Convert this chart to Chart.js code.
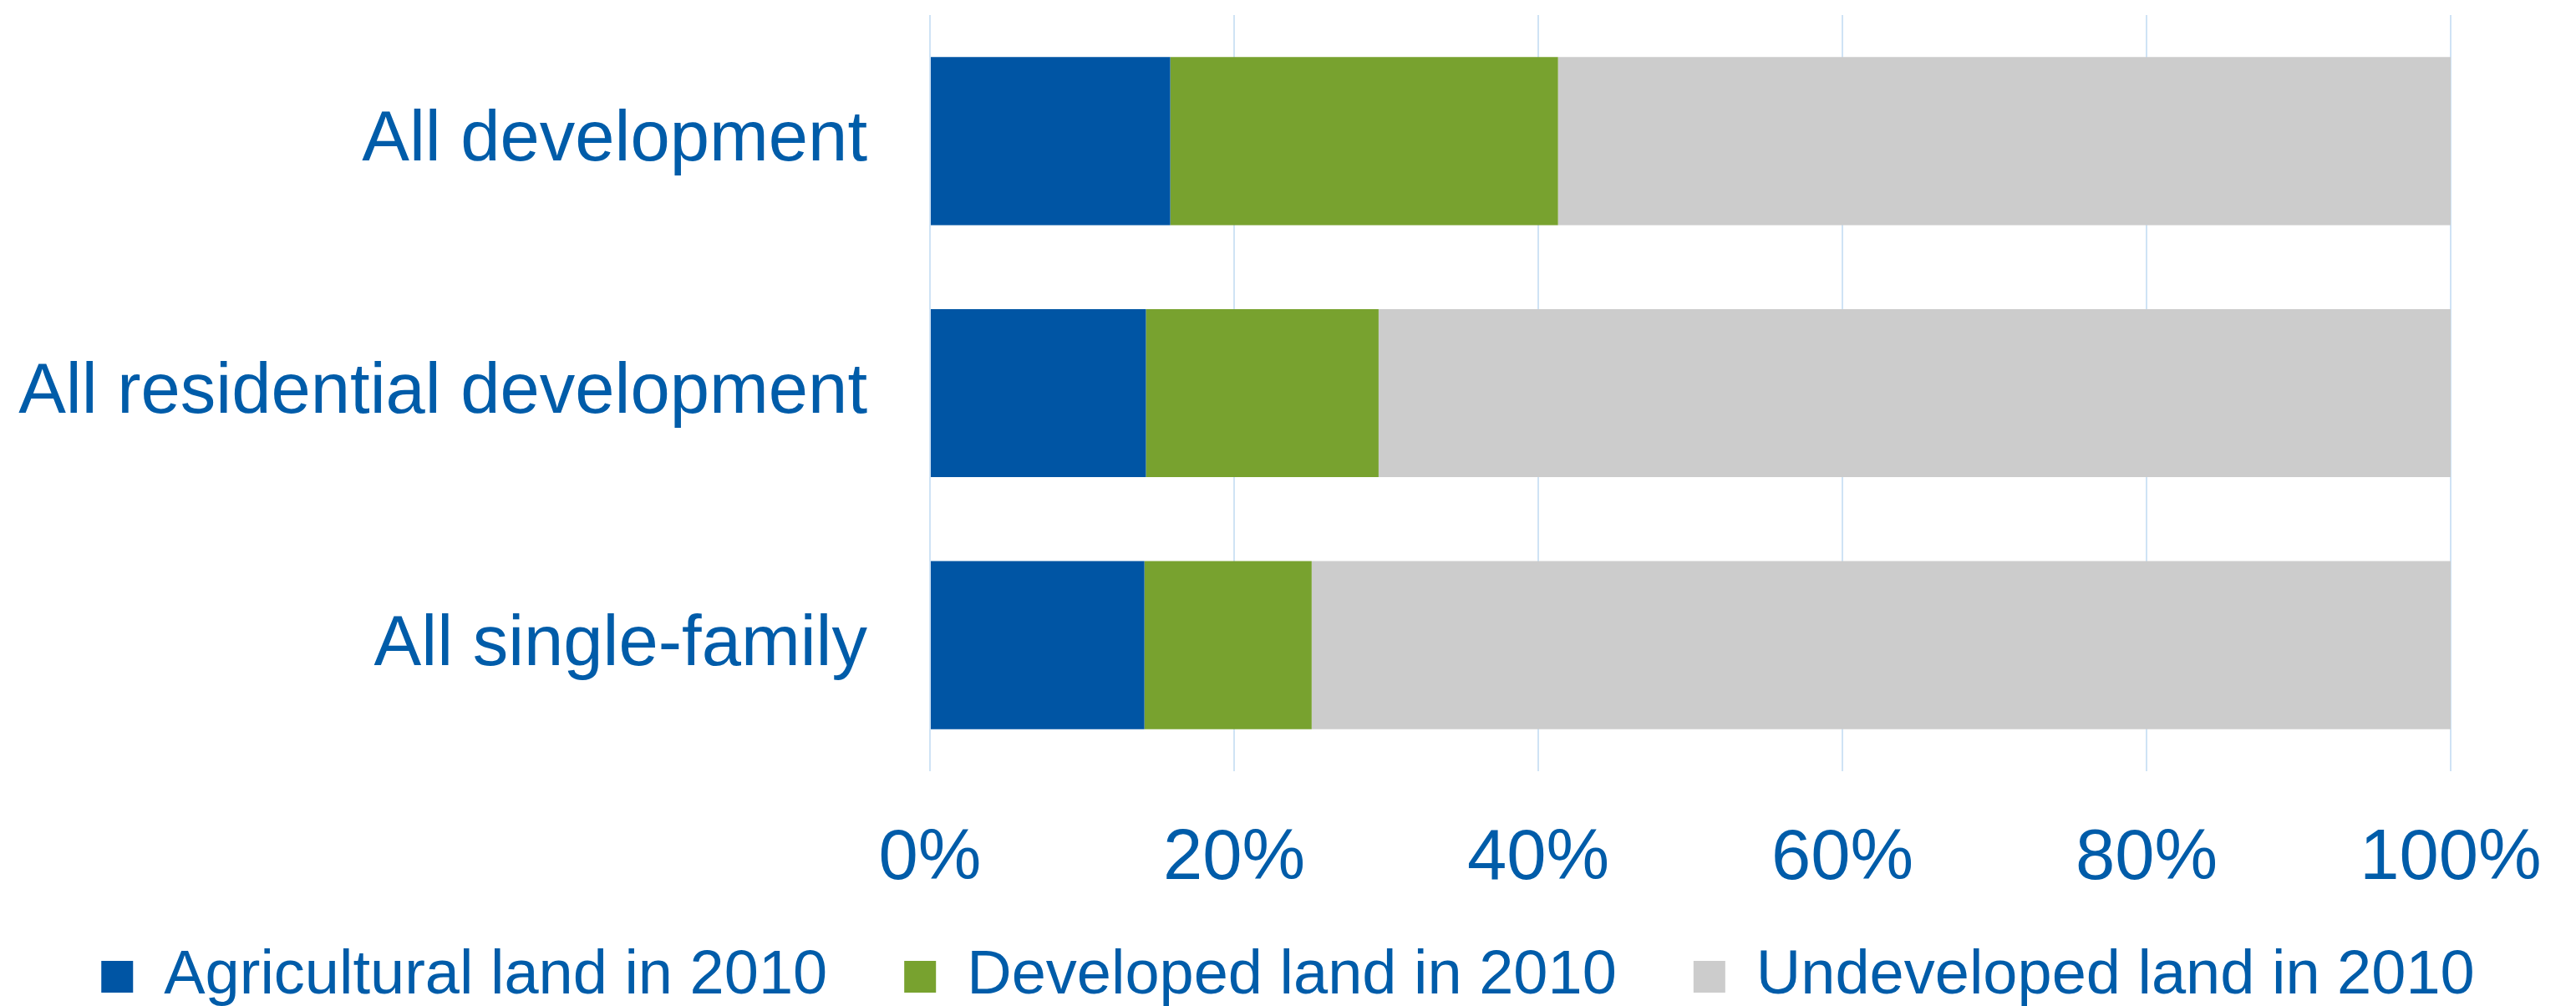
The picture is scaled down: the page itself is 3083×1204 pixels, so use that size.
<!DOCTYPE html>
<html>
<head>
<meta charset="utf-8">
<script src="https://cdn.jsdelivr.net/npm/chart.js@4"></script>
<style>
html,body{margin:0;padding:0;background:#ffffff;overflow:hidden}
#wrap{position:relative;width:3083px;height:1204px}
</style>
</head>
<body>
<div id="wrap"><canvas id="c"></canvas></div>
<script>
// ---- data ----
const categories = ['All development', 'All residential development', 'All single-family'];
const seriesNames = ['Agricultural land in 2010', 'Developed land in 2010', 'Undeveloped land in 2010'];
const agricultural = [15.8, 14.2, 14.1];
const developed = [25.5, 15.3, 11.0];
const undeveloped = [58.7, 70.5, 74.9];
const xTickLabels = ['0%', '20%', '40%', '60%', '80%', '100%'];

const TEXT = '#005CA9';
const FONT = '"Liberation Sans", Arial, Helvetica, sans-serif';

new Chart(document.getElementById('c'), {
  type: 'bar',
  data: {
    labels: categories,
    datasets: [
      { label: seriesNames[0], data: agricultural, backgroundColor: '#0055A4', borderWidth: 0 },
      { label: seriesNames[1], data: developed, backgroundColor: '#78A22F', borderWidth: 0 },
      { label: seriesNames[2], data: undeveloped, backgroundColor: '#CCCCCC', borderWidth: 0 }
    ]
  },
  options: {
    indexAxis: 'y',
    responsive: true,
    maintainAspectRatio: false,
    devicePixelRatio: 1,
    animation: false,
    datasets: { bar: { categoryPercentage: 1.0, barPercentage: 0.667 } },
    layout: { padding: { top: 18, left: 0, right: 0, bottom: -12 } },
    scales: {
      x: {
        stacked: true,
        min: 0,
        max: 100,
        grid: { display: true, color: '#CFE3F5', lineWidth: 2, drawTicks: false },
        border: { display: false },
        ticks: {
          stepSize: 20,
          mirror: true,
          padding: -118,
          color: TEXT,
          font: { family: FONT, size: 85, lineHeight: 0.3 },
          maxRotation: 0,
          callback: (v, i) => xTickLabels[i]
        },
        afterFit: (s) => { s.paddingRight = 150; s.paddingLeft = 0; s.height = 117; }
      },
      y: {
        stacked: true,
        grid: { display: false, drawTicks: false },
        border: { display: false },
        ticks: {
          padding: 75,
          color: TEXT,
          font: { family: FONT, size: 85 }
        },
        afterFit: (s) => { s.width = 1113; s.paddingTop = 0; s.paddingBottom = 0; }
      }
    },
    plugins: {
      legend: {
        position: 'bottom',
        labels: {
          boxWidth: 38,
          boxHeight: 38,
          padding: 92,
          color: TEXT,
          font: { family: FONT, size: 74 }
        }
      },
      tooltip: { enabled: false }
    }
  }
});
</script>
</body>
</html>
